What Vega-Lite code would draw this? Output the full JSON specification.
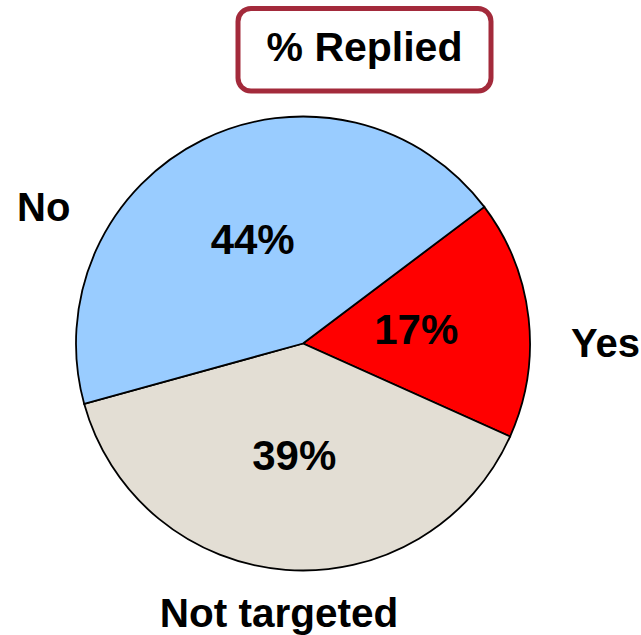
{
  "$schema": "https://vega.github.io/schema/vega-lite/v6.json",
  "background": "white",
  "padding": {"left": 17, "top": 5.5, "right": 0, "bottom": 0},
  "config": {
    "view": {"stroke": null},
    "font": "Liberation Sans",
    "text": {"font": "Liberation Sans", "fontWeight": "bold", "color": "black"}
  },
  "data": {
    "values": [
      {"answer": "Yes", "share": 0.17},
      {"answer": "Not targeted", "share": 0.39},
      {"answer": "No", "share": 0.44}
    ]
  },
  "spacing": 19,
  "vconcat": [
    {
      "spacing": 0,
      "hconcat": [
        {
          "width": 159,
          "height": 82.5,
          "view": {"stroke": null},
          "data": {"values": [{"caption": ""}]},
          "mark": {"type": "text", "fontSize": 0},
          "encoding": {"text": {"field": "caption"}}
        },
        {
          "width": 253,
          "height": 82.5,
          "view": {"stroke": "#A32A3B", "strokeWidth": 5, "cornerRadius": 13, "fill": "white"},
          "data": {"values": [{"caption": "% Replied"}]},
          "mark": {"type": "text", "fontSize": 41, "align": "center", "baseline": "middle", "dy": -1},
          "encoding": {"text": {"field": "caption"}}
        }
      ]
    },
    {
      "width": 454,
      "height": 454,
      "encoding": {
        "theta": {"field": "share", "type": "quantitative", "stack": true, "scale": {"range": [0.925, 7.2082]}},
        "order": {"field": "share", "sort": "ascending"}
      },
      "layer": [
        {
          "mark": {"type": "arc", "stroke": "black", "strokeWidth": 1.8},
          "encoding": {
            "color": {
              "field": "answer",
              "type": "nominal",
              "scale": {"domain": ["Yes", "Not targeted", "No"], "range": ["#FF0000", "#E3DED4", "#99CCFF"]},
              "legend": null
            }
          }
        },
        {
          "mark": {"type": "text", "radius": 114, "fontSize": 42, "align": "center", "baseline": "middle"},
          "encoding": {
            "detail": {"field": "answer"},
            "text": {"field": "share", "type": "quantitative", "format": ".0%"}
          }
        },
        {
          "mark": {"type": "text", "radius": 227, "align": "center", "baseline": "middle", "dx": 77, "dy": 27},
          "encoding": {
            "detail": {"field": "answer"},
            "size": {"condition": {"test": "datum.answer === 'Yes'", "value": 40}, "value": 0},
            "text": {"condition": {"test": "datum.answer === 'Yes'", "field": "answer", "type": "nominal"}, "value": ""}
          }
        },
        {
          "mark": {"type": "text", "radius": 227, "align": "center", "baseline": "middle", "dx": -6.5, "dy": 45},
          "encoding": {
            "detail": {"field": "answer"},
            "size": {"condition": {"test": "datum.answer === 'Not targeted'", "value": 40.5}, "value": 0},
            "text": {"condition": {"test": "datum.answer === 'Not targeted'", "field": "answer", "type": "nominal"}, "value": ""}
          }
        },
        {
          "mark": {"type": "text", "radius": 227, "align": "center", "baseline": "middle", "dx": -159, "dy": 69},
          "encoding": {
            "detail": {"field": "answer"},
            "size": {"condition": {"test": "datum.answer === 'No'", "value": 40}, "value": 0},
            "text": {"condition": {"test": "datum.answer === 'No'", "field": "answer", "type": "nominal"}, "value": ""}
          }
        }
      ]
    }
  ]
}
